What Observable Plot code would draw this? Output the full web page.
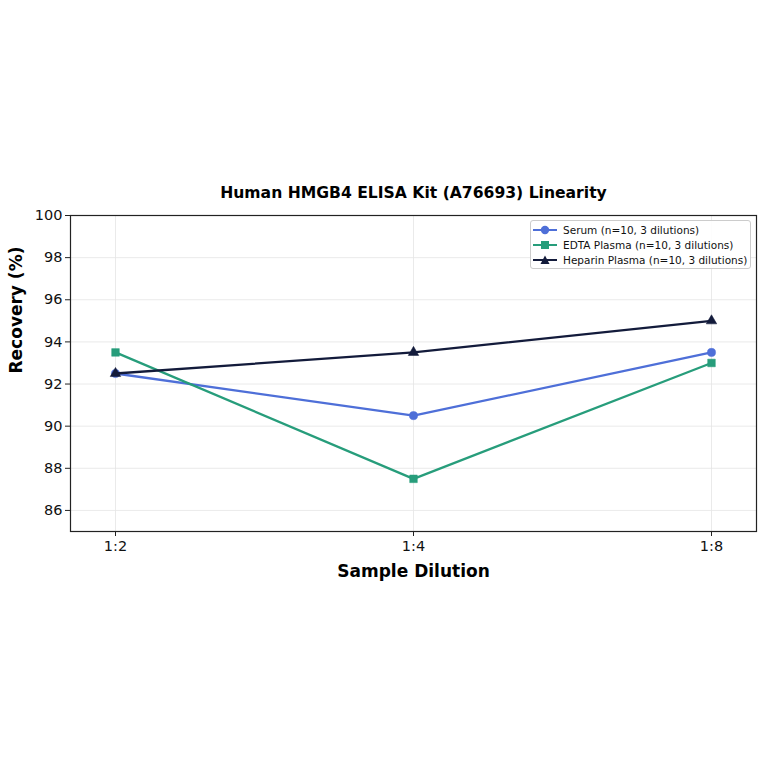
<!DOCTYPE html>
<html>
<head>
<meta charset="utf-8">
<script src="https://cdn.jsdelivr.net/npm/d3@7"></script>
<script src="https://cdn.jsdelivr.net/npm/@observablehq/plot@0.6"></script>
<style>
  html, body { margin: 0; padding: 0; background: #fff; }
  #wrap { position: relative; width: 764px; height: 764px; font-family: "DejaVu Sans", sans-serif; }
  #legend { position: absolute; left: 530px; top: 220px; width: 219px; height: 46px; border: 1px solid #cccccc; border-radius: 3px; background: rgba(255,255,255,0.9); padding: 1px 0 0 0; font-size: 10.5px; color: #111; white-space: nowrap; }
  #legend .row { display: flex; align-items: center; height: 15px; }
  #legend svg { margin-left: 2px; margin-right: 6px; flex: none; }
</style>
</head>
<body>
<div id="wrap"><div id="legend"></div></div>
<script>
const dilutions = ["1:2", "1:4", "1:8"];
const seriesNames = ["Serum (n=10, 3 dilutions)", "EDTA Plasma (n=10, 3 dilutions)", "Heparin Plasma (n=10, 3 dilutions)"];
const serum = [92.5, 90.5, 93.5];
const edta = [93.5, 87.5, 93.0];
const heparin = [92.5, 93.5, 95.0];
const yTicks = [86, 88, 90, 92, 94, 96, 98, 100];
const colors = ["#4e6fd8", "#279d7b", "#131b3b"];
const symbols = ["circle", "square", "triangle"];
const dotSizes = [4.1, 4.3, 3.9];

const allValues = [serum, edta, heparin];
const data = [];
allValues.forEach((vals, si) => vals.forEach((v, i) => data.push({series: seriesNames[si], dilution: dilutions[i], value: v})));

const font = "DejaVu Sans, sans-serif";
const marks = [
  Plot.gridX(dilutions, {stroke: "#e4e4e4", strokeOpacity: 1, strokeWidth: 0.8}),
  Plot.gridY(yTicks, {stroke: "#e4e4e4", strokeOpacity: 1, strokeWidth: 0.8}),
];
seriesNames.forEach((name, si) => {
  const d = data.filter(r => r.series === name);
  marks.push(Plot.line(d, {x: "dilution", y: "value", stroke: colors[si], strokeWidth: 2.3}));
  marks.push(Plot.dot(d, {x: "dilution", y: "value", fill: colors[si], stroke: colors[si], symbol: symbols[si], r: dotSizes[si], strokeWidth: 0.5}));
});
marks.push(
  Plot.frame({stroke: "#222", strokeWidth: 1.2}),
  Plot.axisX(dilutions, {tickSize: 5, tickPadding: 4, fontSize: 14.5, label: null, stroke: "#222", fill: "#111"}),
  Plot.axisY(yTicks, {tickSize: 5, tickPadding: 3, fontSize: 14.5, label: null, stroke: "#222", fill: "#111"}),
  Plot.text(["Human HMGB4 ELISA Kit (A76693) Linearity"], {frameAnchor: "top", dy: -29, fontSize: 15.6, fontWeight: "bold", fill: "#000"}),
  Plot.text(["Sample Dilution"], {frameAnchor: "bottom", dy: 45, fontSize: 17, fontWeight: "bold", fill: "#000"}),
  Plot.text(["Recovery (%)"], {frameAnchor: "left", dx: -54, rotate: -90, fontSize: 17, fontWeight: "bold", fill: "#000"})
);

const chart = Plot.plot({
  width: 764,
  height: 764,
  marginLeft: 70,
  marginRight: 8,
  marginTop: 215,
  marginBottom: 233,
  style: {fontFamily: font, background: "white"},
  x: {type: "point", domain: dilutions, padding: 0.151, axis: null},
  y: {domain: [85, 100], axis: null},
  marks
});
const wrap = document.getElementById("wrap");
wrap.insertBefore(chart, wrap.firstChild);

const legend = document.getElementById("legend");
seriesNames.forEach((name, si) => {
  const row = document.createElement("div");
  row.className = "row";
  let sym = "";
  if (symbols[si] === "circle") sym = `<circle cx="12" cy="6" r="4.2" fill="${colors[si]}"/>`;
  else if (symbols[si] === "square") sym = `<rect x="8" y="2" width="8" height="8" fill="${colors[si]}"/>`;
  else sym = `<path d="M12,1.5 L16.5,10 L7.5,10 Z" fill="${colors[si]}"/>`;
  row.innerHTML = `<svg width="24" height="12"><line x1="0" y1="6" x2="24" y2="6" stroke="${colors[si]}" stroke-width="2"/>${sym}</svg><span>${name}</span>`;
  legend.appendChild(row);
});
</script>
</body>
</html>
